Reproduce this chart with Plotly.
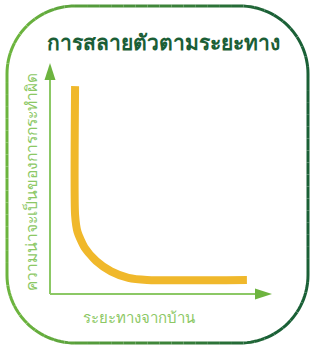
import math
import plotly.graph_objects as go

# ---- data ----
title_text = "การสลายตัวตามระยะทาง"
x_label = "ระยะทางจากบ้าน"
y_label = "ความน่าจะเป็นของการกระทำผิด"

distance = [1.13, 1.13, 1.24, 1.56, 2.08, 2.75, 3.53, 4.37, 8.87]
probability = [0.90, 0.342, 0.269, 0.201, 0.143, 0.098, 0.070, 0.061, 0.061]

# ---- geometry helpers ----
W, H = 313, 348
def px(x):
    return x / W
def py(y):
    return 1 - y / H

X0, X1 = 50, 272   # axis origin / x-arrow tip (pixels)
Y0, Y1 = 294, 63   # axis origin / y-arrow tip (pixels)

fig = go.Figure()
fig.add_trace(go.Scatter(
    x=distance, y=probability, mode="lines",
    line=dict(color="#F0B82B", width=8, shape="spline", smoothing=0.6),
    hoverinfo="skip", showlegend=False))

shapes = []
# axis lines
axis_col = "#8CC865"
shapes.append(dict(type="line", xref="paper", yref="paper",
                   x0=px(X0), y0=py(Y0), x1=px(X1 - 8), y1=py(Y0),
                   line=dict(color=axis_col, width=2)))
shapes.append(dict(type="line", xref="paper", yref="paper",
                   x0=px(X0), y0=py(Y0), x1=px(X0), y1=py(Y1 + 8),
                   line=dict(color=axis_col, width=2)))
# arrowheads
head_col = "#6DB43F"
L, hw = 17, 5.5
shapes.append(dict(type="path", xref="paper", yref="paper",
                   path=f"M {px(X1)},{py(Y0)} L {px(X1-L)},{py(Y0-hw)} L {px(X1-L)},{py(Y0+hw)} Z",
                   fillcolor=head_col, line=dict(width=0)))
shapes.append(dict(type="path", xref="paper", yref="paper",
                   path=f"M {px(X0)},{py(Y1)} L {px(X0-hw)},{py(Y1+L)} L {px(X0+hw)},{py(Y1+L)} Z",
                   fillcolor=head_col, line=dict(width=0)))

# rounded gradient border
bl, br, bt, bb, r = 7, 308, 6, 343, 68
pts = []
def arc(cx, cy, a0, a1, n=30):
    for i in range(n + 1):
        a = math.radians(a0 + (a1 - a0) * i / n)
        pts.append((cx + r * math.cos(a), cy + r * math.sin(a)))
arc(bl + r, bt + r, 180, 270)
arc(br - r, bt + r, 270, 360)
arc(br - r, bb - r, 0, 90)
arc(bl + r, bb - r, 90, 180)
pts.append(pts[0])

c_light = (108, 180, 62)
c_dark = (26, 96, 54)
def col(x):
    t = min(max((x - 20) / (270 - 20), 0), 1)
    c = [round(a + (b - a) * t) for a, b in zip(c_light, c_dark)]
    return f"rgb({c[0]},{c[1]},{c[2]})"

dense = []
for (xa, ya), (xb, yb) in zip(pts[:-1], pts[1:]):
    d = math.hypot(xb - xa, yb - ya)
    n = max(1, int(d / 4))
    for k in range(n):
        dense.append((xa + (xb - xa) * k / n, ya + (yb - ya) * k / n))
dense.append(pts[-1])
step = 3
for i in range(0, len(dense) - 1, step):
    seg = dense[i:i + step + 1]
    if len(seg) < 2:
        continue
    p = "M " + " L ".join(f"{px(a)},{py(b)}" for a, b in seg)
    mx = sum(a for a, _ in seg) / len(seg)
    shapes.append(dict(type="path", xref="paper", yref="paper", path=p,
                       line=dict(color=col(mx), width=3)))

annotations = [
    dict(text=f"<b>{title_text}</b>", x=px(163), y=py(42), xref="paper", yref="paper",
         showarrow=False, font=dict(size=21, color="#1B5E36"), xanchor="center", yanchor="middle"),
    dict(text=x_label, x=px(139), y=py(317), xref="paper", yref="paper",
         showarrow=False, font=dict(size=15, color="#8CC865"), xanchor="center", yanchor="middle"),
    dict(text=y_label, x=px(31), y=py(182), xref="paper", yref="paper", textangle=-90,
         showarrow=False, font=dict(size=15.5, color="#8CC865"), xanchor="center", yanchor="middle"),
]

fig.update_layout(
    width=W, height=H, margin=dict(l=0, r=0, t=0, b=0),
    paper_bgcolor="white", plot_bgcolor="white",
    font=dict(family="Noto Sans, sans-serif"),
    xaxis=dict(domain=[px(X0), px(X1)], range=[0, 10], visible=False, fixedrange=True),
    yaxis=dict(domain=[py(Y0), py(Y1)], range=[0, 1], visible=False, fixedrange=True),
    shapes=shapes, annotations=annotations, showlegend=False,
)
fig.write_html("out.html", config={"displayModeBar": False},
               post_script="document.body.style.margin='0';document.body.style.overflow='hidden';")
